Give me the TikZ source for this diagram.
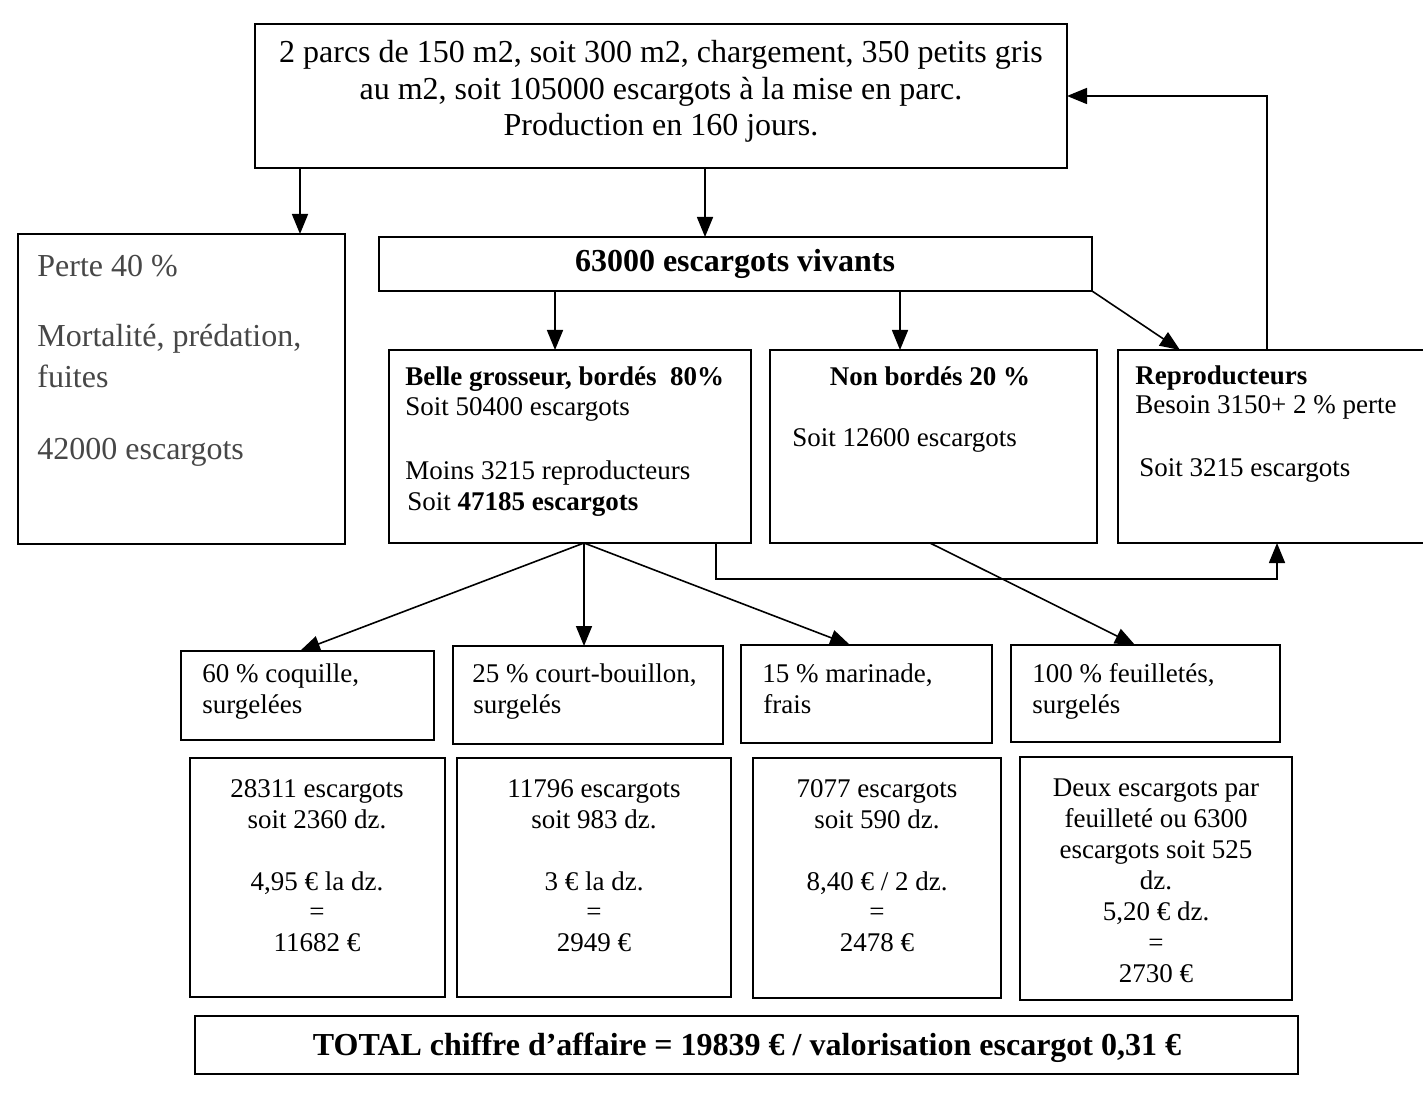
\documentclass[tikz,border=0pt]{standalone}
\usepackage{fontspec}
\setmainfont{Liberation Serif}
\usetikzlibrary{arrows.meta,calc,fit}
\begin{document}
\begin{tikzpicture}[x=0.5pt,y=-0.5pt,
  box/.style={draw,line width=1pt,inner sep=0pt,outer sep=0pt},
  arr/.style={line width=0.8pt,-{Triangle[length=10pt,width=8pt]}},
  big/.style={inner sep=0pt,yshift=-1.5pt,font=\fontsize{16}{18}\selectfont},
  med/.style={inner sep=0pt,yshift=-1.5pt,font=\fontsize{13.5}{15.5}\selectfont},
  faded/.style={text=black!72},
]
\useasboundingbox[fill=white] (0,0) rectangle (1423,1096);

% boxes
\node[box,fit={(255,24) (1067,168)}] (top) {};
\node[box,fit={(18,234) (345,544)}] (perte) {};
\node[box,fit={(379,237) (1092,291)}] (viv) {};
\node[box,fit={(389,350) (751,543)}] (belle) {};
\node[box,fit={(770,350) (1097,543)}] (nonb) {};
\node[box,fit={(1118,350) (1450,543)}] (repro) {};
\node[box,fit={(181,651) (434,740)}] (c60) {};
\node[box,fit={(453,646) (723,744)}] (c25) {};
\node[box,fit={(741,645) (992,743)}] (c15) {};
\node[box,fit={(1011,645) (1280,742)}] (c100) {};
\node[box,fit={(190,758) (445,997)}] (v60) {};
\node[box,fit={(457,758) (731,997)}] (v25) {};
\node[box,fit={(753,758) (1001,998)}] (v15) {};
\node[box,fit={(1020,757) (1292,1000)}] (v100) {};
\node[box,fit={(195,1016) (1298,1074)}] (total) {};

% texts: top box
\node[big,anchor=mid] (t1) at (661,55) {2 parcs de 150 m2, soit 300 m2, chargement, 350 petits gris};
\node[big,anchor=mid] (t2) at (661,92) {au m2, soit 105000 escargots à la mise en parc.};
\node[big,anchor=mid] (t3) at (661,128) {Production en 160 jours.};

% perte
\node[big,faded,anchor=mid west] (p1) at (37,269) {Perte 40 \%};
\node[big,faded,anchor=mid west] (p2) at (37,339) {Mortalité, prédation,};
\node[big,faded,anchor=mid west] (p3) at (37,380) {fuites};
\node[big,faded,anchor=mid west] (p4) at (37,452) {42000 escargots};

% vivants
\node[big,anchor=mid,font=\fontsize{16}{18}\selectfont\bfseries] (vv) at (735,264) {63000 escargots vivants};

% belle
\node[med,anchor=mid west,font=\fontsize{13.5}{15.5}\selectfont\bfseries] (b1) at (405,378) {Belle grosseur, bordés~~80\%};
\node[med,anchor=mid west] (b2) at (405,408) {Soit 50400 escargots};
\node[med,anchor=mid west] (b3) at (405,472) {Moins 3215 reproducteurs};
\node[med,anchor=mid west] (b4) at (407,503) {Soit \textbf{47185 escargots}};

% non bordes
\node[med,anchor=mid,font=\fontsize{13.5}{15.5}\selectfont\bfseries] (n1) at (930,378) {Non bordés 20 \%};
\node[med,anchor=mid west] (n2) at (792,439) {Soit 12600 escargots};

% reproducteurs
\node[med,anchor=mid west,font=\fontsize{13.5}{15.5}\selectfont\bfseries] (r1) at (1135,377) {Reproducteurs};
\node[med,anchor=mid west] (r2) at (1135,406) {Besoin 3150+ 2 \% perte};
\node[med,anchor=mid west] (r3) at (1139,469) {Soit 3215 escargots};

% middle row
\node[med,anchor=mid west] (m1a) at (202,675) {60 \% coquille,};
\node[med,anchor=mid west] (m1b) at (202,706) {surgelées};
\node[med,anchor=mid west] (m2a) at (472,675) {25 \% court-bouillon,};
\node[med,anchor=mid west] (m2b) at (473,706) {surgelés};
\node[med,anchor=mid west] (m3a) at (762,675) {15 \% marinade,};
\node[med,anchor=mid west] (m3b) at (763,706) {frais};
\node[med,anchor=mid west] (m4a) at (1032,675) {100 \% feuilletés,};
\node[med,anchor=mid west] (m4b) at (1032,706) {surgelés};

% lower row
\node[med,anchor=mid] (l1a) at (317,790) {28311 escargots};
\node[med,anchor=mid] (l1b) at (317,821) {soit 2360 dz.};
\node[med,anchor=mid] (l1c) at (317,883) {4,95 € la dz.};
\node[med,anchor=mid] (l1d) at (317,913) {=};
\node[med,anchor=mid] (l1e) at (317,944) {11682 €};

\node[med,anchor=mid] (l2a) at (594,790) {11796 escargots};
\node[med,anchor=mid] (l2b) at (594,821) {soit 983 dz.};
\node[med,anchor=mid] (l2c) at (594,883) {3 € la dz.};
\node[med,anchor=mid] (l2d) at (594,913) {=};
\node[med,anchor=mid] (l2e) at (594,944) {2949 €};

\node[med,anchor=mid] (l3a) at (877,790) {7077 escargots};
\node[med,anchor=mid] (l3b) at (877,821) {soit 590 dz.};
\node[med,anchor=mid] (l3c) at (877,883) {8,40 € / 2 dz.};
\node[med,anchor=mid] (l3d) at (877,913) {=};
\node[med,anchor=mid] (l3e) at (877,944) {2478 €};

\node[med,anchor=mid] (l4a) at (1156,789) {Deux escargots par};
\node[med,anchor=mid] (l4b) at (1156,820) {feuilleté ou 6300};
\node[med,anchor=mid] (l4c) at (1156,851) {escargots soit 525};
\node[med,anchor=mid] (l4d) at (1156,882) {dz.};
\node[med,anchor=mid] (l4e) at (1156,913) {5,20 € dz.};
\node[med,anchor=mid] (l4f) at (1156,944) {=};
\node[med,anchor=mid] (l4g) at (1156,975) {2730 €};

% total
\node[big,anchor=mid,font=\fontsize{16}{18}\selectfont\bfseries] (tt) at (747,1048) {TOTAL chiffre d’affaire = 19839 € / valorisation escargot 0,31 €};

% helper coordinates for connector positions
\coordinate (a1) at (705,0);
\coordinate (a2) at (300,0);
\coordinate (a3) at (555,0);
\coordinate (a4) at (900,0);
\coordinate (a5) at (1180,0);
\coordinate (a6) at (1267,0);
\coordinate (a7) at (716,579);
\coordinate (a8) at (1277,579);
\coordinate (f0) at (584,0);
\coordinate (b1x) at (300,0);
\coordinate (b2x) at (584,0);
\coordinate (b3x) at (850,0);
\coordinate (b4x) at (930,0);
\coordinate (b5x) at (1135,0);

% connectors
\draw[arr] (top.south -| a1) -- (viv.north -| a1);
\draw[arr] (top.south -| a2) -- (perte.north -| a2);
\draw[arr] (viv.south -| a3) -- (belle.north -| a3);
\draw[arr] (viv.south -| a4) -- (nonb.north -| a4);
\draw[arr] (viv.south east) -- (repro.north -| a5);
\draw[arr] (repro.north -| a6) |- (top.east);
\draw[arr] (belle.south -| a7) -- (a7) -- (a8) -- (repro.south -| a8);
\draw[arr] (belle.south -| f0) -- (c60.north -| b1x);
\draw[arr] (belle.south -| f0) -- (c25.north -| b2x);
\draw[arr] (belle.south -| f0) -- (c15.north -| b3x);
\draw[arr] (nonb.south -| b4x) -- (c100.north -| b5x);
\end{tikzpicture}
\end{document}
